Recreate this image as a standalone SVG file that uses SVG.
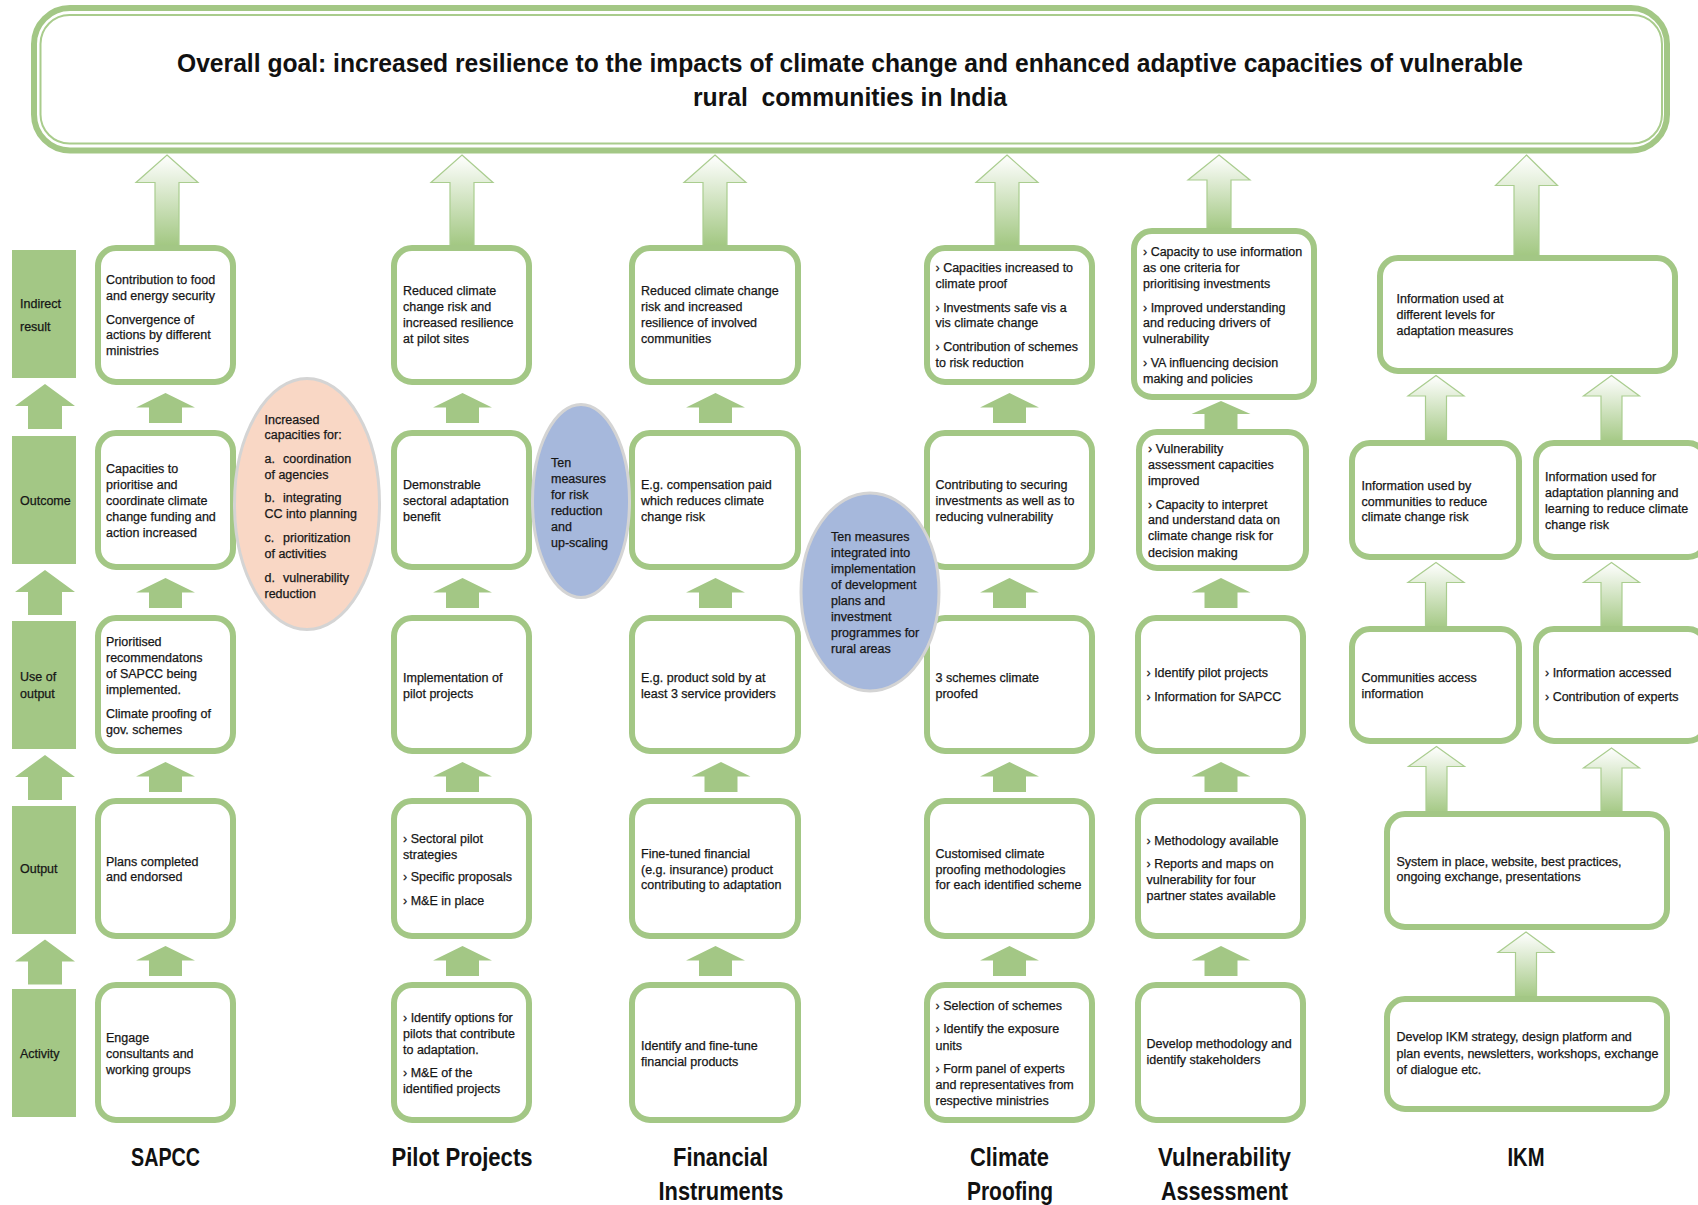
<svg xmlns="http://www.w3.org/2000/svg" xmlns:xlink="http://www.w3.org/1999/xlink" width="1698" height="1205" viewBox="0 0 1698 1205">
<style>
.box{fill:#fff;stroke:#a3c785;stroke-width:6}
.lbl{fill:#a3c785}
.sa{fill:#a3c785}
.ga{fill:url(#grad);stroke:#aacd8f;stroke-width:1.2}
.t{font-family:"Liberation Sans",Arial,sans-serif;font-size:12.5px;fill:#161616;stroke:#161616;stroke-width:0.25}
.ct{font-family:"Liberation Sans",Arial,sans-serif;font-size:25px;font-weight:bold;fill:#111;text-anchor:middle}
.gt{font-family:"Liberation Sans",Arial,sans-serif;font-size:25px;font-weight:bold;fill:#111;text-anchor:middle}
.pink{fill:#f9d7c5;stroke:#d4d4d4;stroke-width:3}
.blue{fill:#a6b8dc;stroke:#d4d4d4;stroke-width:3}
</style>
<defs>
<linearGradient id="grad" x1="0" y1="0" x2="0" y2="1">
<stop offset="0" stop-color="#ffffff"/>
<stop offset="1" stop-color="#a0c67f"/>
</linearGradient>
<path id="sa" d="M0,0 L29.5,14.5 L16.5,14.5 L16.5,30 L-16.5,30 L-16.5,14.5 L-29.5,14.5Z"/>
<path id="la" d="M0,0 L30,22 L17,22 L17,45 L-17,45 L-17,22 L-30,22Z"/>
</defs>
<rect width="1698" height="1205" fill="#fff"/>

<g id="goal">
<rect x="34" y="8" width="1633" height="142.5" rx="36" fill="#fff" stroke="#a3c785" stroke-width="6"/>
<rect x="40.5" y="15" width="1621.5" height="128.5" rx="29" fill="none" stroke="#a9cc8c" stroke-width="2"/>
<text class="gt" x="850" y="72" textLength="1346" lengthAdjust="spacingAndGlyphs">Overall goal: increased resilience to the impacts of climate change and enhanced adaptive capacities of vulnerable</text>
<text class="gt" x="850" y="106" textLength="314" lengthAdjust="spacingAndGlyphs" xml:space="preserve">rural  communities in India</text>
</g>

<g id="connectors">
<path class="ga" d="M167,155 L198,182.5 L179,182.5 L179,248 L155,248 L155,182.5 L136,182.5Z"/>
<path class="ga" d="M462,155 L493,182.5 L474,182.5 L474,248 L450,248 L450,182.5 L431,182.5Z"/>
<path class="ga" d="M715,155 L746,182.5 L727,182.5 L727,248 L703,248 L703,182.5 L684,182.5Z"/>
<path class="ga" d="M1007,155 L1038,182.5 L1019,182.5 L1019,248 L995,248 L995,182.5 L976,182.5Z"/>
<path class="ga" d="M1219,155 L1250,180 L1231,180 L1231,232 L1207,232 L1207,180 L1188,180Z"/>
<path class="ga" d="M1526.5,155 L1557.5,185.5 L1539,185.5 L1539,258 L1514,258 L1514,185.5 L1495.5,185.5Z"/>
<path class="ga" d="M1436,375.5 L1464,396 L1446.5,396 L1446.5,445 L1425.5,445 L1425.5,396 L1408,396Z"/>
<path class="ga" d="M1611.5,375.5 L1639.5,396 L1622,396 L1622,445 L1601,445 L1601,396 L1583.5,396Z"/>
<path class="ga" d="M1436,562.5 L1464,582.5 L1446.5,582.5 L1446.5,631 L1425.5,631 L1425.5,582.5 L1408,582.5Z"/>
<path class="ga" d="M1611.5,562.5 L1639.5,582.5 L1622,582.5 L1622,631 L1601,631 L1601,582.5 L1583.5,582.5Z"/>
<path class="ga" d="M1436.5,746.5 L1464.5,766.5 L1447,766.5 L1447,816 L1426,816 L1426,766.5 L1408.5,766.5Z"/>
<path class="ga" d="M1611.5,748 L1639.5,768 L1622,768 L1622,816 L1601,816 L1601,768 L1583.5,768Z"/>
<path class="ga" d="M1526,932 L1554,952.5 L1536.5,952.5 L1536.5,1001 L1515.5,1001 L1515.5,952.5 L1498,952.5Z"/>

<use xlink:href="#la" href="#la" class="sa" x="45" y="384"/>
<use xlink:href="#la" href="#la" class="sa" x="45" y="570"/>
<use xlink:href="#la" href="#la" class="sa" x="45" y="755"/>
<use xlink:href="#la" href="#la" class="sa" x="45" y="939.5"/>

<use xlink:href="#sa" href="#sa" class="sa" x="165.5" y="393"/>
<use xlink:href="#sa" href="#sa" class="sa" x="165.5" y="578"/>
<use xlink:href="#sa" href="#sa" class="sa" x="165.5" y="762"/>
<use xlink:href="#sa" href="#sa" class="sa" x="165.5" y="946"/>
<use xlink:href="#sa" href="#sa" class="sa" x="462.5" y="393"/>
<use xlink:href="#sa" href="#sa" class="sa" x="462.5" y="578"/>
<use xlink:href="#sa" href="#sa" class="sa" x="462.5" y="762"/>
<use xlink:href="#sa" href="#sa" class="sa" x="462.5" y="946"/>
<use xlink:href="#sa" href="#sa" class="sa" x="715.5" y="393"/>
<use xlink:href="#sa" href="#sa" class="sa" x="715.5" y="578"/>
<use xlink:href="#sa" href="#sa" class="sa" x="721" y="762"/>
<use xlink:href="#sa" href="#sa" class="sa" x="715.5" y="946"/>
<use xlink:href="#sa" href="#sa" class="sa" x="1009.5" y="393"/>
<use xlink:href="#sa" href="#sa" class="sa" x="1009.5" y="578"/>
<use xlink:href="#sa" href="#sa" class="sa" x="1009.5" y="762"/>
<use xlink:href="#sa" href="#sa" class="sa" x="1009.5" y="946"/>
<path class="sa" d="M1221,401 L1250.5,414 L1237.5,414 L1237.5,432 L1204.5,432 L1204.5,414 L1191.5,414Z"/>
<use xlink:href="#sa" href="#sa" class="sa" x="1221" y="578"/>
<use xlink:href="#sa" href="#sa" class="sa" x="1221" y="762"/>
<use xlink:href="#sa" href="#sa" class="sa" x="1221" y="946"/>
</g>

<g id="row-labels">
<g id="lbl-indirect"><rect class="lbl" x="12" y="250" width="64" height="128"/><text class="t"><tspan x="20" y="308">Indirect</tspan><tspan x="20" y="331">result</tspan></text></g>
<g id="lbl-outcome"><rect class="lbl" x="12" y="436" width="64" height="128"/><text class="t" x="20" y="505">Outcome</text></g>
<g id="lbl-use"><rect class="lbl" x="12" y="621" width="64" height="128"/><text class="t"><tspan x="20" y="681">Use of</tspan><tspan x="20" y="697.5">output</tspan></text></g>
<g id="lbl-output"><rect class="lbl" x="12" y="806" width="64" height="128"/><text class="t" x="20" y="873">Output</text></g>
<g id="lbl-activity"><rect class="lbl" x="12" y="989" width="64" height="128"/><text class="t" x="20" y="1057.5">Activity</text></g>
</g>

<g id="sapcc">
<g id="sapcc-indirect"><rect class="box" x="98" y="248" width="135" height="134" rx="18"/>
<text class="t"><tspan x="106" y="283.5">Contribution to food</tspan><tspan x="106" y="300">and energy security</tspan><tspan x="106" y="323.5">Convergence of</tspan><tspan x="106" y="339">actions by different</tspan><tspan x="106" y="355">ministries</tspan></text></g>
<g id="sapcc-outcome"><rect class="box" x="98" y="433" width="135" height="134" rx="18"/>
<text class="t"><tspan x="106" y="473">Capacities to</tspan><tspan x="106" y="489">prioritise and</tspan><tspan x="106" y="505">coordinate climate</tspan><tspan x="106" y="521">change funding and</tspan><tspan x="106" y="537">action increased</tspan></text></g>
<g id="sapcc-use"><rect class="box" x="98" y="618" width="135" height="133" rx="18"/>
<text class="t"><tspan x="106" y="645.5">Prioritised</tspan><tspan x="106" y="662">recommendatons</tspan><tspan x="106" y="677.5">of SAPCC being</tspan><tspan x="106" y="693.5">implemented.</tspan><tspan x="106" y="717.5">Climate proofing of</tspan><tspan x="106" y="733.5">gov. schemes</tspan></text></g>
<g id="sapcc-output"><rect class="box" x="98" y="801" width="135" height="135" rx="18"/>
<text class="t"><tspan x="106" y="865.5">Plans completed</tspan><tspan x="106" y="881">and endorsed</tspan></text></g>
<g id="sapcc-activity"><rect class="box" x="98" y="985" width="135" height="135" rx="18"/>
<text class="t"><tspan x="106" y="1042">Engage</tspan><tspan x="106" y="1058">consultants and</tspan><tspan x="106" y="1074">working groups</tspan></text></g>
<text class="ct" x="165.5" y="1166" textLength="69" lengthAdjust="spacingAndGlyphs">SAPCC</text>
</g>

<g id="pilot">
<g id="pilot-indirect"><rect class="box" x="394" y="248" width="135" height="134" rx="18"/>
<text class="t"><tspan x="403" y="295">Reduced climate</tspan><tspan x="403" y="311">change risk and</tspan><tspan x="403" y="327">increased resilience</tspan><tspan x="403" y="343">at pilot sites</tspan></text></g>
<g id="pilot-outcome"><rect class="box" x="394" y="433" width="135" height="134" rx="18"/>
<text class="t"><tspan x="403" y="489">Demonstrable</tspan><tspan x="403" y="505">sectoral adaptation</tspan><tspan x="403" y="521">benefit</tspan></text></g>
<g id="pilot-use"><rect class="box" x="394" y="618" width="135" height="133" rx="18"/>
<text class="t"><tspan x="403" y="681.5">Implementation of</tspan><tspan x="403" y="697.5">pilot projects</tspan></text></g>
<g id="pilot-output"><rect class="box" x="394" y="801" width="135" height="135" rx="18"/>
<text class="t"><tspan x="403" y="842.5">› Sectoral pilot</tspan><tspan x="403" y="858.5">strategies</tspan><tspan x="403" y="881">› Specific proposals</tspan><tspan x="403" y="905">› M&amp;E in place</tspan></text></g>
<g id="pilot-activity"><rect class="box" x="394" y="985" width="135" height="135" rx="18"/>
<text class="t"><tspan x="403" y="1022">› Identify options for</tspan><tspan x="403" y="1038">pilots that contribute</tspan><tspan x="403" y="1054">to adaptation.</tspan><tspan x="403" y="1076.5">› M&amp;E of the</tspan><tspan x="403" y="1092.5">identified projects</tspan></text></g>
<text class="ct" x="462" y="1166" textLength="141" lengthAdjust="spacingAndGlyphs">Pilot Projects</text>
</g>

<g id="financial">
<g id="fin-indirect"><rect class="box" x="632" y="248" width="166" height="134" rx="18"/>
<text class="t"><tspan x="641" y="295">Reduced climate change</tspan><tspan x="641" y="311">risk and increased</tspan><tspan x="641" y="327">resilience of involved</tspan><tspan x="641" y="343">communities</tspan></text></g>
<g id="fin-outcome"><rect class="box" x="632" y="433" width="166" height="134" rx="18"/>
<text class="t"><tspan x="641" y="489">E.g. compensation paid</tspan><tspan x="641" y="505">which reduces climate</tspan><tspan x="641" y="521">change risk</tspan></text></g>
<g id="fin-use"><rect class="box" x="632" y="618" width="166" height="133" rx="18"/>
<text class="t"><tspan x="641" y="681.5">E.g. product sold by at</tspan><tspan x="641" y="697.5">least 3 service providers</tspan></text></g>
<g id="fin-output"><rect class="box" x="632" y="801" width="166" height="135" rx="18"/>
<text class="t"><tspan x="641" y="857.5">Fine-tuned financial</tspan><tspan x="641" y="873.5">(e.g. insurance) product</tspan><tspan x="641" y="889">contributing to adaptation</tspan></text></g>
<g id="fin-activity"><rect class="box" x="632" y="985" width="166" height="135" rx="18"/>
<text class="t"><tspan x="641" y="1050">Identify and fine-tune</tspan><tspan x="641" y="1066">financial products</tspan></text></g>
<text class="ct" x="720.5" y="1166" textLength="95" lengthAdjust="spacingAndGlyphs">Financial</text>
<text class="ct" x="721" y="1200" textLength="125" lengthAdjust="spacingAndGlyphs">Instruments</text>
</g>

<g id="climate-proofing">
<g id="cp-indirect"><rect class="box" x="927" y="248" width="165" height="134" rx="18"/>
<text class="t"><tspan x="935.5" y="272">› Capacities increased to</tspan><tspan x="935.5" y="288">climate proof</tspan><tspan x="935.5" y="311.5">› Investments safe vis a</tspan><tspan x="935.5" y="327">vis climate change</tspan><tspan x="935.5" y="351">› Contribution of schemes</tspan><tspan x="935.5" y="367">to risk reduction</tspan></text></g>
<g id="cp-outcome"><rect class="box" x="927" y="433" width="165" height="134" rx="18"/>
<text class="t"><tspan x="935.5" y="489">Contributing to securing</tspan><tspan x="935.5" y="505">investments as well as to</tspan><tspan x="935.5" y="521">reducing vulnerability</tspan></text></g>
<g id="cp-use"><rect class="box" x="927" y="618" width="165" height="133" rx="18"/>
<text class="t"><tspan x="935.5" y="681.5">3 schemes climate</tspan><tspan x="935.5" y="697.5">proofed</tspan></text></g>
<g id="cp-output"><rect class="box" x="927" y="801" width="165" height="135" rx="18"/>
<text class="t"><tspan x="935.5" y="857.5">Customised climate</tspan><tspan x="935.5" y="873.5">proofing methodologies</tspan><tspan x="935.5" y="889">for each identified scheme</tspan></text></g>
<g id="cp-activity"><rect class="box" x="927" y="985" width="165" height="135" rx="18"/>
<text class="t"><tspan x="935.5" y="1010">› Selection of schemes</tspan><tspan x="935.5" y="1033">› Identify the exposure</tspan><tspan x="935.5" y="1049.5">units</tspan><tspan x="935.5" y="1072.5">› Form panel of experts</tspan><tspan x="935.5" y="1089">and representatives from</tspan><tspan x="935.5" y="1104.5">respective ministries</tspan></text></g>
<text class="ct" x="1009.5" y="1166" textLength="79" lengthAdjust="spacingAndGlyphs">Climate</text>
<text class="ct" x="1010" y="1200" textLength="86" lengthAdjust="spacingAndGlyphs">Proofing</text>
</g>

<g id="vulnerability">
<g id="va-indirect"><rect class="box" x="1134" y="231" width="180" height="166" rx="18"/>
<text class="t"><tspan x="1143" y="256">› Capacity to use information</tspan><tspan x="1143" y="272">as one criteria for</tspan><tspan x="1143" y="288">prioritising investments</tspan><tspan x="1143" y="311.5">› Improved understanding</tspan><tspan x="1143" y="327">and reducing drivers of</tspan><tspan x="1143" y="343">vulnerability</tspan><tspan x="1143" y="367">› VA influencing decision</tspan><tspan x="1143" y="383">making and policies</tspan></text></g>
<g id="va-outcome"><rect class="box" x="1139" y="432" width="167" height="136" rx="18"/>
<text class="t"><tspan x="1148" y="453">› Vulnerability</tspan><tspan x="1148" y="469">assessment capacities</tspan><tspan x="1148" y="485">improved</tspan><tspan x="1148" y="508.5">› Capacity to interpret</tspan><tspan x="1148" y="524">and understand data on</tspan><tspan x="1148" y="540">climate change risk for</tspan><tspan x="1148" y="557">decision making</tspan></text></g>
<g id="va-use"><rect class="box" x="1138" y="618" width="165" height="133" rx="18"/>
<text class="t"><tspan x="1146.5" y="677">› Identify pilot projects</tspan><tspan x="1146.5" y="701">› Information for SAPCC</tspan></text></g>
<g id="va-output"><rect class="box" x="1138" y="801" width="165" height="135" rx="18"/>
<text class="t"><tspan x="1146.5" y="844.5">› Methodology available</tspan><tspan x="1146.5" y="868">› Reports and maps on</tspan><tspan x="1146.5" y="884">vulnerability for four</tspan><tspan x="1146.5" y="899.5">partner states available</tspan></text></g>
<g id="va-activity"><rect class="box" x="1138" y="985" width="165" height="135" rx="18"/>
<text class="t"><tspan x="1146.5" y="1048">Develop methodology and</tspan><tspan x="1146.5" y="1063.5">identify stakeholders</tspan></text></g>
<text class="ct" x="1224.5" y="1166" textLength="133" lengthAdjust="spacingAndGlyphs">Vulnerability</text>
<text class="ct" x="1224.5" y="1200" textLength="127" lengthAdjust="spacingAndGlyphs">Assessment</text>
</g>

<g id="ikm">
<g id="ikm-indirect"><rect class="box" x="1380" y="258" width="295" height="113" rx="18"/>
<text class="t"><tspan x="1396.5" y="303">Information used at</tspan><tspan x="1396.5" y="319">different levels for</tspan><tspan x="1396.5" y="335">adaptation measures</tspan></text></g>
<g id="ikm-outcome-1"><rect class="box" x="1352" y="443" width="167" height="114" rx="18"/>
<text class="t"><tspan x="1361.5" y="489.5">Information used by</tspan><tspan x="1361.5" y="505.5">communities to reduce</tspan><tspan x="1361.5" y="521">climate change risk</tspan></text></g>
<g id="ikm-outcome-2"><rect class="box" x="1536" y="443" width="170" height="114" rx="18"/>
<text class="t"><tspan x="1545" y="481">Information used for</tspan><tspan x="1545" y="497">adaptation planning and</tspan><tspan x="1545" y="513">learning to reduce climate</tspan><tspan x="1545" y="529">change risk</tspan></text></g>
<g id="ikm-use-1"><rect class="box" x="1352" y="629" width="167" height="112" rx="18"/>
<text class="t"><tspan x="1361.5" y="681.5">Communities access</tspan><tspan x="1361.5" y="697.5">information</tspan></text></g>
<g id="ikm-use-2"><rect class="box" x="1536" y="629" width="170" height="112" rx="18"/>
<text class="t"><tspan x="1545" y="677">› Information accessed</tspan><tspan x="1545" y="701">› Contribution of experts</tspan></text></g>
<g id="ikm-output"><rect class="box" x="1387" y="814" width="280" height="113" rx="18"/>
<text class="t"><tspan x="1396.5" y="865.5">System in place, website, best practices,</tspan><tspan x="1396.5" y="881">ongoing exchange, presentations</tspan></text></g>
<g id="ikm-activity"><rect class="box" x="1387" y="999" width="280" height="110" rx="18"/>
<text class="t"><tspan x="1396.5" y="1041">Develop IKM strategy, design platform and</tspan><tspan x="1396.5" y="1058">plan events, newsletters, workshops, exchange</tspan><tspan x="1396.5" y="1074">of dialogue etc.</tspan></text></g>
<text class="ct" x="1526" y="1166" textLength="37" lengthAdjust="spacingAndGlyphs">IKM</text>
</g>

<g id="ellipse-capacities">
<ellipse class="pink" cx="307" cy="504" rx="72.5" ry="125.5"/>
<text class="t"><tspan x="264.5" y="423.5">Increased</tspan><tspan x="264.5" y="439">capacities for:</tspan><tspan x="264.5" y="463">a.</tspan><tspan x="283" y="463">coordination</tspan><tspan x="264.5" y="479">of agencies</tspan><tspan x="264.5" y="502">b.</tspan><tspan x="283" y="502">integrating</tspan><tspan x="264.5" y="518">CC into planning</tspan><tspan x="264.5" y="542">c.</tspan><tspan x="283" y="542">prioritization</tspan><tspan x="264.5" y="558">of activities</tspan><tspan x="264.5" y="582">d.</tspan><tspan x="283" y="582">vulnerability</tspan><tspan x="264.5" y="598">reduction</tspan></text>
</g>
<g id="ellipse-ten-measures">
<ellipse class="blue" cx="581" cy="501" rx="48.5" ry="96.5"/>
<text class="t"><tspan x="551" y="466.5">Ten</tspan><tspan x="551" y="483">measures</tspan><tspan x="551" y="499">for risk</tspan><tspan x="551" y="515">reduction</tspan><tspan x="551" y="531">and</tspan><tspan x="551" y="547">up-scaling</tspan></text>
</g>
<g id="ellipse-integrated">
<ellipse class="blue" cx="870" cy="592" rx="69" ry="99"/>
<text class="t"><tspan x="831" y="541">Ten measures</tspan><tspan x="831" y="557">integrated into</tspan><tspan x="831" y="573">implementation</tspan><tspan x="831" y="589">of development</tspan><tspan x="831" y="605">plans and</tspan><tspan x="831" y="621">investment</tspan><tspan x="831" y="637">programmes for</tspan><tspan x="831" y="653">rural areas</tspan></text>
</g>
</svg>
